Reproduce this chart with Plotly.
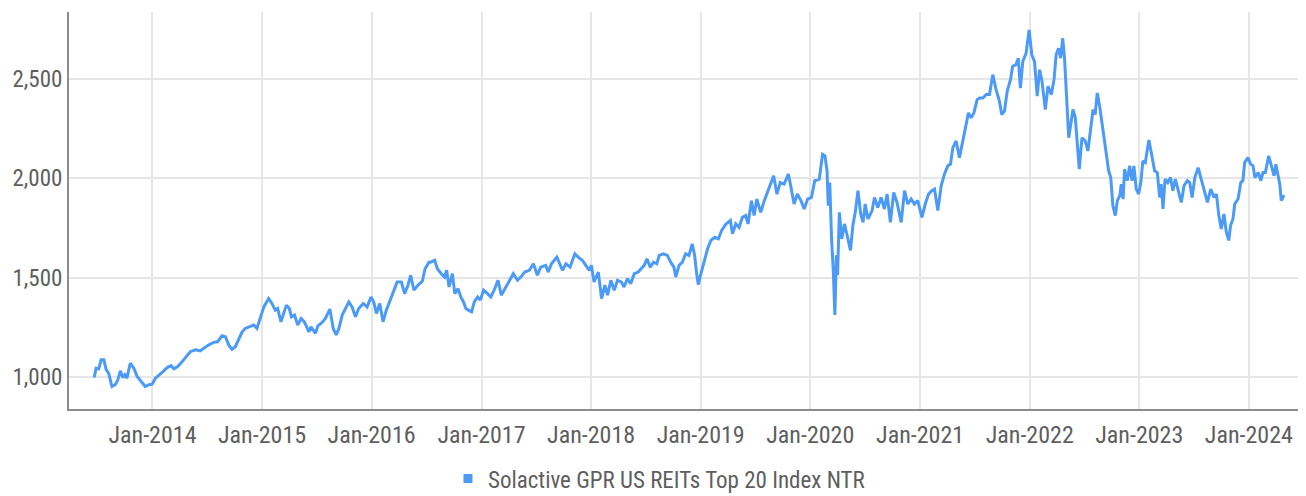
import plotly.graph_objects as go

series_name = "Solactive GPR US REITs Top 20 Index NTR"

dates = [
    "2013-06-21", "2013-06-27", "2013-07-06", "2013-07-14", "2013-07-23", "2013-07-31", "2013-08-08",
    "2013-08-19", "2013-08-30", "2013-09-07", "2013-09-16", "2013-09-24", "2013-10-01", "2013-10-08",
    "2013-10-19", "2013-10-31", "2013-11-11", "2013-11-24", "2013-12-08", "2013-12-20", "2013-12-31",
    "2014-01-11", "2014-01-22", "2014-02-05", "2014-02-19", "2014-03-04", "2014-03-13", "2014-03-26",
    "2014-04-10", "2014-04-24", "2014-05-07", "2014-05-24", "2014-06-09", "2014-06-21", "2014-07-07",
    "2014-07-24", "2014-08-06", "2014-08-21", "2014-09-01", "2014-09-12", "2014-09-23", "2014-10-04",
    "2014-10-15", "2014-10-26", "2014-11-06", "2014-11-21", "2014-12-04", "2014-12-15", "2014-12-24",
    "2015-01-07", "2015-01-23", "2015-02-03", "2015-02-14", "2015-02-22", "2015-03-05", "2015-03-14",
    "2015-03-23", "2015-04-02", "2015-04-09", "2015-04-19", "2015-04-30", "2015-05-11", "2015-05-22",
    "2015-06-06", "2015-06-13", "2015-06-28", "2015-07-06", "2015-07-20", "2015-07-31", "2015-08-15",
    "2015-08-26", "2015-09-05", "2015-09-14", "2015-09-25", "2015-10-06", "2015-10-17", "2015-10-28",
    "2015-11-08", "2015-11-19", "2015-12-04", "2015-12-17", "2015-12-30",
    "2016-01-08", "2016-01-17", "2016-01-28", "2016-02-08", "2016-02-19", "2016-03-02", "2016-03-13",
    "2016-03-26", "2016-04-09", "2016-04-20", "2016-05-01", "2016-05-10", "2016-05-21", "2016-06-03",
    "2016-06-18", "2016-06-27", "2016-07-10", "2016-07-15", "2016-07-29", "2016-08-07", "2016-08-20",
    "2016-08-31", "2016-09-07", "2016-09-15", "2016-09-26", "2016-10-04", "2016-10-15", "2016-10-24",
    "2016-11-02", "2016-11-10", "2016-11-18", "2016-11-29", "2016-12-08", "2016-12-19", "2016-12-28",
    "2017-01-08", "2017-01-21", "2017-02-01", "2017-02-12", "2017-02-25", "2017-03-08", "2017-03-23",
    "2017-04-03", "2017-04-17", "2017-05-01", "2017-05-12", "2017-05-25", "2017-06-09", "2017-06-23",
    "2017-07-06", "2017-07-17", "2017-08-03", "2017-08-11", "2017-08-22", "2017-09-09", "2017-09-20",
    "2017-09-28", "2017-10-09", "2017-10-23", "2017-11-08", "2017-11-19", "2017-12-03", "2017-12-14",
    "2017-12-26",
    "2018-01-02", "2018-01-11", "2018-01-25", "2018-02-05", "2018-02-16", "2018-02-25", "2018-03-08",
    "2018-03-19", "2018-03-30", "2018-04-12", "2018-04-21", "2018-05-02", "2018-05-13", "2018-05-25",
    "2018-06-07", "2018-06-18", "2018-06-27", "2018-07-06", "2018-07-17", "2018-07-28", "2018-08-08",
    "2018-08-16", "2018-08-30", "2018-09-12", "2018-09-23", "2018-10-04", "2018-10-10", "2018-10-21",
    "2018-11-01", "2018-11-12", "2018-11-23", "2018-12-04", "2018-12-12", "2018-12-18", "2018-12-24",
    "2019-01-02", "2019-01-13", "2019-01-24", "2019-02-04", "2019-02-17", "2019-03-01", "2019-03-12",
    "2019-03-26", "2019-04-10", "2019-04-17", "2019-04-28", "2019-05-09", "2019-05-20", "2019-05-31",
    "2019-06-08", "2019-06-19", "2019-06-28", "2019-07-07", "2019-07-20", "2019-08-01", "2019-08-14",
    "2019-08-25", "2019-09-01", "2019-09-12", "2019-09-23", "2019-10-06", "2019-10-20", "2019-10-28",
    "2019-11-08", "2019-11-19", "2019-12-01", "2019-12-12", "2019-12-23",
    "2020-01-05", "2020-01-16", "2020-01-31", "2020-02-11", "2020-02-19", "2020-02-26", "2020-03-01",
    "2020-03-06", "2020-03-12", "2020-03-18", "2020-03-23", "2020-03-28", "2020-04-01", "2020-04-07",
    "2020-04-15", "2020-04-24", "2020-05-03", "2020-05-14", "2020-05-22", "2020-05-30", "2020-06-08",
    "2020-06-17", "2020-06-25", "2020-07-02", "2020-07-11", "2020-07-25", "2020-08-02", "2020-08-13",
    "2020-08-24", "2020-09-04", "2020-09-13", "2020-09-24", "2020-10-05", "2020-10-16", "2020-10-30",
    "2020-11-10", "2020-11-21", "2020-12-02", "2020-12-13", "2020-12-24",
    "2021-01-07", "2021-01-18", "2021-01-29", "2021-02-09", "2021-02-18", "2021-03-01", "2021-03-12",
    "2021-03-23", "2021-04-03", "2021-04-12", "2021-04-20", "2021-05-01", "2021-05-12", "2021-05-23",
    "2021-06-03", "2021-06-11", "2021-06-20", "2021-06-29", "2021-07-10", "2021-07-18", "2021-07-29",
    "2021-08-09", "2021-08-20", "2021-08-31", "2021-09-11", "2021-09-22", "2021-09-30", "2021-10-09",
    "2021-10-18", "2021-10-29", "2021-11-05", "2021-11-16", "2021-11-24", "2021-12-01", "2021-12-09",
    "2021-12-20", "2021-12-30",
    "2022-01-08", "2022-01-17", "2022-01-26", "2022-02-03", "2022-02-11", "2022-02-22", "2022-03-03",
    "2022-03-14", "2022-03-23", "2022-03-30", "2022-04-07", "2022-04-14", "2022-04-21", "2022-04-27",
    "2022-05-04", "2022-05-11", "2022-05-17", "2022-05-25", "2022-06-02", "2022-06-08", "2022-06-15",
    "2022-06-24", "2022-07-05", "2022-07-14", "2022-07-23", "2022-07-31", "2022-08-07", "2022-08-14",
    "2022-08-22", "2022-08-30", "2022-09-05", "2022-09-13", "2022-09-21", "2022-09-28", "2022-10-05",
    "2022-10-13", "2022-10-20", "2022-10-28", "2022-11-02", "2022-11-08", "2022-11-13", "2022-11-22",
    "2022-11-30", "2022-12-08", "2022-12-14", "2022-12-22", "2022-12-30",
    "2023-01-06", "2023-01-13", "2023-01-21", "2023-01-28", "2023-02-02", "2023-02-10", "2023-02-21",
    "2023-03-02", "2023-03-10", "2023-03-15", "2023-03-21", "2023-03-28", "2023-04-06", "2023-04-15",
    "2023-04-23", "2023-05-01", "2023-05-10", "2023-05-21", "2023-05-30", "2023-06-10", "2023-06-18",
    "2023-06-26", "2023-07-05", "2023-07-16", "2023-07-25", "2023-08-05", "2023-08-16", "2023-08-27",
    "2023-09-07", "2023-09-15", "2023-09-23", "2023-10-01", "2023-10-10", "2023-10-18", "2023-10-26",
    "2023-11-01", "2023-11-09", "2023-11-15", "2023-11-26", "2023-12-05", "2023-12-12", "2023-12-18",
    "2023-12-29",
    "2024-01-07", "2024-01-15", "2024-01-21", "2024-02-01", "2024-02-10", "2024-02-17", "2024-02-25",
    "2024-03-07", "2024-03-16", "2024-03-25", "2024-03-31", "2024-04-08", "2024-04-13", "2024-04-18",
    "2024-04-27",
]

values = [
    998, 1045, 1042, 1087, 1087, 1037, 1020,
    953, 962, 983, 1032, 998, 1012, 995,
    1070, 1045, 1003, 978, 953, 962, 965,
    995, 1008, 1028, 1048, 1058, 1042, 1053,
    1078, 1103, 1128, 1137, 1132, 1145, 1162,
    1175, 1178, 1208, 1203, 1162, 1140, 1153,
    1187, 1225, 1245, 1253, 1262, 1245, 1287,
    1353, 1395, 1370, 1337, 1345, 1278, 1320,
    1362, 1345, 1303, 1312, 1262, 1295, 1278,
    1228, 1253, 1220, 1258, 1275, 1295, 1342,
    1245, 1212, 1245, 1312, 1345, 1378, 1353,
    1303, 1345, 1370, 1353, 1403,
    1378, 1320, 1370, 1278, 1337, 1387, 1428,
    1478, 1478, 1420, 1462, 1512, 1437, 1462,
    1482, 1545, 1578, 1578, 1587, 1545, 1520,
    1503, 1537, 1453, 1520, 1420, 1445, 1403,
    1378, 1345, 1337, 1328, 1378, 1403, 1387,
    1437, 1420, 1403, 1437, 1487, 1412, 1453,
    1487, 1520, 1487, 1503, 1528, 1537, 1570,
    1512, 1553, 1562, 1528, 1570, 1603, 1562,
    1537, 1570, 1553, 1620, 1603, 1587, 1562,
    1537,
    1562, 1478, 1528, 1395, 1462, 1412, 1487,
    1437, 1487, 1478, 1453, 1495, 1470, 1520,
    1528, 1545, 1562, 1595, 1553, 1578, 1570,
    1612, 1620, 1612, 1578, 1553, 1503, 1562,
    1578, 1620, 1612, 1670, 1612, 1528, 1465,
    1520, 1578, 1645, 1687, 1703, 1695, 1737,
    1770, 1787, 1720, 1770, 1753, 1803, 1812,
    1770, 1887, 1812, 1895, 1828, 1887, 1937,
    1978, 2012, 1920, 1978, 1970, 2020, 1962,
    1870, 1920, 1887, 1845, 1895,
    1903, 1987, 1995, 2120, 2112, 2037, 1862,
    1978, 1695, 1528, 1312, 1612, 1512, 1828,
    1695, 1770, 1712, 1637, 1762, 1828, 1937,
    1820, 1778, 1870, 1795, 1837, 1903, 1853,
    1903, 1845, 1920, 1778, 1928, 1878, 1778,
    1937, 1870, 1895, 1870, 1887,
    1803, 1870, 1920, 1937, 1945, 1837, 1960,
    2020, 2062, 2070, 2153, 2187, 2103, 2187,
    2270, 2328, 2303, 2328, 2395, 2403, 2403,
    2420, 2420, 2520, 2445, 2387, 2320, 2337,
    2437, 2495, 2562, 2570, 2603, 2453, 2587,
    2628, 2745,
    2620, 2587, 2412, 2545, 2487, 2345, 2462,
    2420, 2495, 2620, 2653, 2603, 2703, 2603,
    2403, 2203, 2262, 2345, 2303, 2187, 2045,
    2203, 2187, 2137, 2237, 2345, 2320, 2428,
    2362, 2270, 2212, 2137, 2037, 2003, 1862,
    1812, 1887, 1912, 1970, 1895, 2045, 1987,
    2062, 1987, 2062, 1945, 1920,
    1978, 2087, 2078, 2137, 2192, 2128, 2037,
    2028, 1903, 1970, 1845, 1995, 1978, 2003,
    1937, 1995, 1937, 1878, 1962, 1987, 1978,
    1903, 2003, 2053, 2003, 1945, 1878, 1945,
    1903, 1920, 1812, 1745, 1820, 1728, 1687,
    1762, 1795, 1870, 1895, 1978, 1987, 2078,
    2103,
    2070, 2062, 2003, 2028, 1987, 2028, 2028,
    2112, 2062, 2012, 2070, 2012, 1970, 1887,
    1915,
]

y_tick_values = [1000, 1500, 2000, 2500]
x_range = ["2013-03-29", "2024-07-06"]
y_range = [840, 2835]

line_color = "#4C9AF8"
text_color = "#5E5E5E"
grid_color = "#E6E6E6"
axis_color = "#8C8C8C"
font_family = "Roboto Condensed, Liberation Sans Narrow, Roboto, sans-serif"

fig = go.Figure()
fig.add_trace(go.Scatter(
    x=dates, y=values, mode="lines",
    line=dict(color=line_color, width=3),
    name=series_name, showlegend=False,
))
# legend entry shown with a square swatch
fig.add_trace(go.Scatter(
    x=[None], y=[None], mode="markers",
    marker=dict(symbol="square", size=9, color=line_color),
    name=series_name, showlegend=True,
))

# the page body adds an 8px offset, margins compensate for it
fig.update_layout(
    width=1306, height=496,
    margin=dict(l=61, r=9, t=4, b=93),
    paper_bgcolor="white", plot_bgcolor="white",
    font=dict(family=font_family, size=24, color=text_color),
    legend=dict(
        orientation="h", x=0.3066, xanchor="left", y=-0.1754, yanchor="middle",
        font=dict(family=font_family, size=23, color=text_color),
        itemwidth=30, bgcolor="rgba(0,0,0,0)",
    ),
)
fig.update_xaxes(
    type="date", range=x_range,
    tick0="2014-01-01", dtick="M12", tickformat="%b-%Y",
    tickfont=dict(family=font_family, size=24, color=text_color),
    showgrid=True, gridcolor=grid_color, gridwidth=2,
    showline=True, linecolor=axis_color, linewidth=2,
    ticks="", ticklabelstandoff=3, zeroline=False, automargin=False,
)
fig.update_yaxes(
    range=y_range, tickvals=y_tick_values, tickformat=",",
    tickfont=dict(family=font_family, size=23, color=text_color),
    showgrid=True, gridcolor=grid_color, gridwidth=2,
    showline=True, linecolor=axis_color, linewidth=2,
    ticks="", ticklabelstandoff=0, zeroline=False, automargin=False,
)

fig.write_html("out.html")
